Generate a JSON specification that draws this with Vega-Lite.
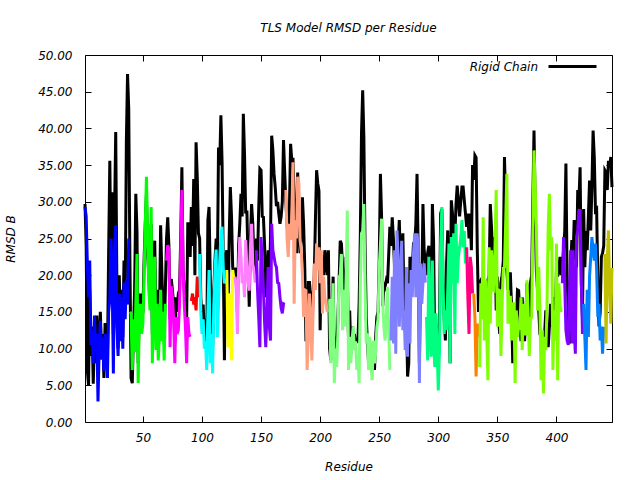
{
"$schema": "https://vega.github.io/schema/vega-lite/v6.json",
"autosize": {"type": "none"},
"padding": {"left": 85, "top": 55, "right": 28, "bottom": 58},
"width": 527,
"height": 367,
"title": {"text": "TLS Model RMSD per Residue", "font": "DejaVu Sans", "fontStyle": "italic", "fontWeight": "normal", "fontSize": 12, "offset": 6, "color": "black"},
"config": {
  "view": {"stroke": "black", "strokeWidth": 1},
  "axis": {"labelFont": "DejaVu Sans", "labelFontStyle": "italic", "labelFontSize": 12, "labelColor": "black", "titleFont": "DejaVu Sans", "titleFontStyle": "italic", "titleFontWeight": "normal", "titleFontSize": 12, "titleColor": "black", "domain": false, "grid": false, "tickColor": "black", "tickSize": -6, "tickWidth": 1}
},
"data": {"values": [
{"res":1,"tls":29.3,"rigid":29.7,"grp":"G01"},{"res":2,"tls":28.0,"rigid":24.0,"grp":"G01"},{"res":3,"tls":21.5,"rigid":7.0,"grp":"G01"},{"res":4,"tls":17.0,"rigid":5.0,"grp":"G01"},{"res":5,"tls":22.0,"rigid":18.0,"grp":"G01"},{"res":6,"tls":10.5,"rigid":9.0,"grp":"G01"},{"res":7,"tls":12.5,"rigid":13.0,"grp":"G01"},{"res":8,"tls":8.0,"rigid":5.2,"grp":"G01"},{"res":9,"tls":14.5,"rigid":12.0,"grp":"G01"},{"res":10,"tls":9.5,"rigid":8.0,"grp":"G01"},
{"res":11,"tls":12.0,"rigid":14.5,"grp":"G01"},{"res":12,"tls":2.8,"rigid":7.0,"grp":"G01"},{"res":13,"tls":10.0,"rigid":11.0,"grp":"G01"},{"res":14,"tls":13.8,"rigid":15.0,"grp":"G01"},{"res":15,"tls":8.5,"rigid":9.0,"grp":"G01"},{"res":16,"tls":11.5,"rigid":12.0,"grp":"G01"},{"res":17,"tls":7.0,"rigid":6.0,"grp":"G01"},{"res":18,"tls":12.0,"rigid":13.5,"grp":"G01"},{"res":19,"tls":9.5,"rigid":11.0,"grp":"G01"},{"res":20,"tls":6.0,"rigid":9.0,"grp":"G01"},
{"res":21,"tls":15.0,"rigid":23.0,"grp":"G01"},{"res":22,"tls":16.6,"rigid":35.6,"grp":"G01"},{"res":23,"tls":25.0,"rigid":20.0,"grp":"G01"},{"res":24,"tls":20.0,"rigid":31.3,"grp":"G01"},{"res":25,"tls":6.6,"rigid":12.0,"grp":"G01"},{"res":26,"tls":23.8,"rigid":28.0,"grp":"G01"},{"res":27,"tls":26.8,"rigid":39.5,"grp":"G01"},{"res":28,"tls":13.0,"rigid":18.0,"grp":"G01"},{"res":29,"tls":9.0,"rigid":10.0,"grp":"G01"},{"res":30,"tls":17.5,"rigid":20.0,"grp":"G01"},
{"res":31,"tls":11.0,"rigid":13.0,"grp":"G01"},{"res":32,"tls":17.0,"rigid":18.0,"grp":"G01"},{"res":33,"tls":10.0,"rigid":11.5,"grp":"G01"},{"res":34,"tls":19.0,"rigid":22.0,"grp":"G01"},{"res":35,"tls":14.0,"rigid":16.0,"grp":"G01"},{"res":36,"tls":19.3,"rigid":38.1,"grp":"G01"},{"res":37,"tls":16.0,"rigid":47.4,"grp":"G01"},{"res":38,"tls":25.0,"rigid":42.7,"grp":"G01"},
{"res":39,"tls":15.0,"rigid":22.0,"grp":"G02"},{"res":40,"tls":14.8,"rigid":6.0,"grp":"G02"},{"res":41,"tls":7.1,"rigid":5.3,"grp":"G02"},{"res":42,"tls":14.0,"rigid":12.0,"grp":"G02"},{"res":43,"tls":9.5,"rigid":18.0,"grp":"G02"},{"res":44,"tls":16.0,"rigid":31.1,"grp":"G02"},{"res":45,"tls":22.9,"rigid":26.0,"grp":"G02"},{"res":46,"tls":5.3,"rigid":8.0,"grp":"G02"},{"res":47,"tls":14.5,"rigid":16.0,"grp":"G02"},{"res":48,"tls":16.1,"rigid":17.5,"grp":"G02"},
{"res":49,"tls":12.0,"rigid":14.0,"grp":"G02"},{"res":50,"tls":13.5,"rigid":15.0,"grp":"G02"},{"res":51,"tls":20.0,"rigid":22.0,"grp":"G02"},{"res":52,"tls":26.6,"rigid":27.0,"grp":"G02"},{"res":53,"tls":33.4,"rigid":31.0,"grp":"G02"},{"res":54,"tls":25.2,"rigid":23.0,"grp":"G02"},{"res":55,"tls":18.0,"rigid":20.0,"grp":"G02"},{"res":56,"tls":15.2,"rigid":17.0,"grp":"G02"},{"res":57,"tls":29.3,"rigid":27.0,"grp":"G02"},{"res":58,"tls":8.0,"rigid":12.0,"grp":"G02"},
{"res":59,"tls":18.0,"rigid":22.0,"grp":"G02"},{"res":60,"tls":22.5,"rigid":24.7,"grp":"G02"},{"res":61,"tls":9.8,"rigid":14.0,"grp":"G02"},{"res":62,"tls":16.1,"rigid":18.0,"grp":"G02"},{"res":63,"tls":8.4,"rigid":11.0,"grp":"G02"},{"res":64,"tls":12.0,"rigid":14.0,"grp":"G02"},{"res":65,"tls":18.0,"rigid":26.8,"grp":"G02"},{"res":66,"tls":11.0,"rigid":20.7,"grp":"G02"},{"res":67,"tls":15.0,"rigid":15.0,"grp":"G02"},{"res":68,"tls":8.4,"rigid":12.0,"grp":"G02"},{"res":69,"tls":16.1,"rigid":18.0,"grp":"G02"},
{"res":70,"tls":22.0,"rigid":25.0,"grp":"G03"},{"res":71,"tls":24.1,"rigid":27.9,"grp":"G03"},{"res":72,"tls":23.5,"rigid":24.0,"grp":"G03"},{"res":73,"tls":10.2,"rigid":14.0,"grp":"G03"},{"res":74,"tls":18.5,"rigid":19.5,"grp":"G03"},{"res":75,"tls":17.0,"rigid":18.0,"grp":"G03"},{"res":76,"tls":14.0,"rigid":16.0,"grp":"G03"},{"res":77,"tls":8.0,"rigid":11.0,"grp":"G03"},{"res":78,"tls":14.3,"rigid":17.0,"grp":"G03"},{"res":79,"tls":12.0,"rigid":15.0,"grp":"G03"},
{"res":80,"tls":12.5,"rigid":17.5,"grp":"G03"},{"res":81,"tls":16.0,"rigid":18.0,"grp":"G03"},{"res":82,"tls":23.4,"rigid":25.0,"grp":"G03"},{"res":83,"tls":31.6,"rigid":34.7,"grp":"G03"},{"res":84,"tls":21.0,"rigid":20.5,"grp":"G03"},{"res":85,"tls":16.1,"rigid":18.0,"grp":"G03"},{"res":86,"tls":13.0,"rigid":15.0,"grp":"G03"},{"res":87,"tls":8.0,"rigid":14.0,"grp":"G03"},{"res":88,"tls":14.3,"rigid":27.0,"grp":"G03"},{"res":89,"tls":12.0,"rigid":27.0,"grp":"G03"},{"res":90,"tls":11.6,"rigid":22.5,"grp":"G03"},
{"res":91,"tls":16.5,"rigid":29.3,"grp":"G04"},{"res":92,"tls":17.5,"rigid":24.0,"grp":"G04"},{"res":93,"tls":16.0,"rigid":33.1,"grp":"G04"},{"res":94,"tls":17.0,"rigid":20.0,"grp":"G04"},{"res":95,"tls":15.2,"rigid":38.1,"grp":"G04"},{"res":96,"tls":19.8,"rigid":33.4,"grp":"G04"},{"res":97,"tls":17.0,"rigid":25.7,"grp":"G04"},
{"res":98,"tls":22.9,"rigid":25.0,"grp":"G05"},{"res":99,"tls":15.0,"rigid":17.0,"grp":"G05"},{"res":100,"tls":12.0,"rigid":14.0,"grp":"G05"},{"res":101,"tls":14.0,"rigid":16.0,"grp":"G05"},{"res":102,"tls":10.0,"rigid":12.0,"grp":"G05"},{"res":103,"tls":11.0,"rigid":14.0,"grp":"G05"},{"res":104,"tls":7.1,"rigid":10.0,"grp":"G05"},{"res":105,"tls":15.0,"rigid":27.5,"grp":"G05"},{"res":106,"tls":20.7,"rigid":29.3,"grp":"G05"},{"res":107,"tls":8.0,"rigid":20.0,"grp":"G05"},
{"res":108,"tls":12.0,"rigid":14.0,"grp":"G05"},{"res":109,"tls":6.6,"rigid":10.0,"grp":"G05"},{"res":110,"tls":16.0,"rigid":18.0,"grp":"G05"},{"res":111,"tls":20.7,"rigid":22.0,"grp":"G05"},{"res":112,"tls":23.5,"rigid":25.0,"grp":"G05"},{"res":113,"tls":11.6,"rigid":20.0,"grp":"G05"},{"res":114,"tls":16.0,"rigid":37.4,"grp":"G05"},{"res":115,"tls":22.0,"rigid":35.0,"grp":"G05"},{"res":116,"tls":25.2,"rigid":41.8,"grp":"G05"},{"res":117,"tls":26.6,"rigid":35.4,"grp":"G05"},{"res":118,"tls":21.0,"rigid":22.0,"grp":"G05"},{"res":119,"tls":18.9,"rigid":8.4,"grp":"G05"},{"res":120,"tls":19.5,"rigid":22.5,"grp":"G05"},
{"res":121,"tls":20.7,"rigid":23.4,"grp":"G06"},{"res":122,"tls":10.2,"rigid":14.0,"grp":"G06"},{"res":123,"tls":17.5,"rigid":25.0,"grp":"G06"},{"res":124,"tls":16.6,"rigid":32.0,"grp":"G06"},{"res":125,"tls":8.4,"rigid":28.0,"grp":"G06"},{"res":126,"tls":20.7,"rigid":21.1,"grp":"G06"},{"res":127,"tls":19.5,"rigid":20.0,"grp":"G06"},
{"res":128,"tls":19.8,"rigid":21.0,"grp":"G07"},{"res":129,"tls":18.0,"rigid":20.0,"grp":"G07"},{"res":130,"tls":12.0,"rigid":15.0,"grp":"G07"},{"res":131,"tls":21.0,"rigid":24.0,"grp":"G07"},{"res":132,"tls":25.2,"rigid":27.0,"grp":"G07"},{"res":133,"tls":22.5,"rigid":31.1,"grp":"G07"},{"res":134,"tls":18.9,"rigid":28.0,"grp":"G07"},{"res":135,"tls":20.0,"rigid":42.0,"grp":"G07"},{"res":136,"tls":17.0,"rigid":36.5,"grp":"G07"},{"res":137,"tls":24.8,"rigid":28.4,"grp":"G07"},
{"res":138,"tls":21.0,"rigid":28.8,"grp":"G07"},{"res":139,"tls":19.0,"rigid":22.0,"grp":"G07"},{"res":140,"tls":17.9,"rigid":15.7,"grp":"G07"},{"res":141,"tls":24.0,"rigid":25.0,"grp":"G07"},{"res":142,"tls":27.0,"rigid":29.7,"grp":"G07"},{"res":143,"tls":21.5,"rigid":27.0,"grp":"G07"},{"res":144,"tls":20.7,"rigid":22.0,"grp":"G07"},{"res":145,"tls":19.0,"rigid":20.0,"grp":"G07"},
{"res":146,"tls":23.4,"rigid":25.0,"grp":"G08"},{"res":147,"tls":18.0,"rigid":22.0,"grp":"G08"},{"res":148,"tls":14.3,"rigid":29.0,"grp":"G08"},{"res":149,"tls":10.2,"rigid":34.5,"grp":"G08"},{"res":150,"tls":25.2,"rigid":34.3,"grp":"G08"},{"res":151,"tls":21.5,"rigid":28.0,"grp":"G08"},{"res":152,"tls":18.0,"rigid":27.9,"grp":"G08"},{"res":153,"tls":13.5,"rigid":24.0,"grp":"G08"},{"res":154,"tls":10.2,"rigid":17.0,"grp":"G08"},{"res":155,"tls":15.0,"rigid":20.0,"grp":"G08"},
{"res":156,"tls":21.1,"rigid":23.4,"grp":"G08"},{"res":157,"tls":13.0,"rigid":18.0,"grp":"G08"},{"res":158,"tls":11.1,"rigid":25.0,"grp":"G08"},{"res":159,"tls":27.0,"rigid":39.0,"grp":"G08"},{"res":160,"tls":23.4,"rigid":37.0,"grp":"G08"},{"res":161,"tls":22.5,"rigid":33.8,"grp":"G08"},{"res":162,"tls":21.5,"rigid":32.0,"grp":"G08"},{"res":163,"tls":21.1,"rigid":29.4,"grp":"G08"},{"res":164,"tls":19.0,"rigid":30.0,"grp":"G08"},{"res":165,"tls":18.9,"rigid":28.4,"grp":"G08"},
{"res":166,"tls":17.0,"rigid":27.0,"grp":"G08"},{"res":167,"tls":15.5,"rigid":28.0,"grp":"G08"},{"res":168,"tls":14.8,"rigid":30.0,"grp":"G08"},{"res":169,"tls":16.1,"rigid":38.4,"grp":"G08"},{"res":170,"tls":16.0,"rigid":34.0,"grp":"G08"},
{"res":171,"tls":31.6,"rigid":30.0,"grp":"G09"},{"res":172,"tls":25.0,"rigid":27.0,"grp":"G09"},{"res":173,"tls":22.5,"rigid":25.0,"grp":"G09"},{"res":174,"tls":27.0,"rigid":29.0,"grp":"G09"},{"res":175,"tls":24.8,"rigid":37.9,"grp":"G09"},{"res":176,"tls":28.0,"rigid":35.6,"grp":"G09"},{"res":177,"tls":35.4,"rigid":36.0,"grp":"G09"},{"res":178,"tls":16.1,"rigid":31.0,"grp":"G09"},{"res":179,"tls":27.5,"rigid":25.0,"grp":"G09"},{"res":180,"tls":25.0,"rigid":23.0,"grp":"G09"},
{"res":181,"tls":33.4,"rigid":34.0,"grp":"G09"},{"res":182,"tls":32.5,"rigid":26.0,"grp":"G09"},{"res":183,"tls":24.8,"rigid":23.0,"grp":"G09"},{"res":184,"tls":23.4,"rigid":25.0,"grp":"G09"},{"res":185,"tls":20.0,"rigid":30.6,"grp":"G09"},{"res":186,"tls":14.3,"rigid":27.0,"grp":"G09"},{"res":187,"tls":18.0,"rigid":21.0,"grp":"G09"},{"res":188,"tls":17.9,"rigid":11.0,"grp":"G09"},{"res":189,"tls":7.1,"rigid":13.0,"grp":"G09"},{"res":190,"tls":11.6,"rigid":19.0,"grp":"G09"},
{"res":191,"tls":17.5,"rigid":19.0,"grp":"G09"},{"res":192,"tls":14.0,"rigid":17.0,"grp":"G09"},{"res":193,"tls":8.4,"rigid":12.0,"grp":"G09"},{"res":194,"tls":14.8,"rigid":17.0,"grp":"G09"},{"res":195,"tls":21.6,"rigid":19.8,"grp":"G09"},{"res":196,"tls":18.0,"rigid":27.5,"grp":"G09"},{"res":197,"tls":24.3,"rigid":34.3,"grp":"G09"},{"res":198,"tls":20.7,"rigid":32.5,"grp":"G09"},{"res":199,"tls":23.8,"rigid":31.5,"grp":"G09"},{"res":200,"tls":18.9,"rigid":12.5,"grp":"G09"},
{"res":201,"tls":23.4,"rigid":21.6,"grp":"G09"},{"res":202,"tls":14.8,"rigid":22.0,"grp":"G09"},{"res":203,"tls":19.8,"rigid":20.0,"grp":"G09"},{"res":204,"tls":17.0,"rigid":23.4,"grp":"G09"},{"res":205,"tls":16.1,"rigid":22.0,"grp":"G09"},{"res":206,"tls":15.0,"rigid":20.0,"grp":"G09"},
{"res":207,"tls":16.6,"rigid":23.4,"grp":"G10"},{"res":208,"tls":16.6,"rigid":10.0,"grp":"G10"},{"res":209,"tls":8.0,"rigid":8.4,"grp":"G10"},{"res":210,"tls":14.3,"rigid":14.8,"grp":"G10"},{"res":211,"tls":18.9,"rigid":19.8,"grp":"G10"},{"res":212,"tls":5.3,"rigid":8.4,"grp":"G10"},{"res":213,"tls":10.0,"rigid":11.6,"grp":"G10"},{"res":214,"tls":7.5,"rigid":10.0,"grp":"G10"},{"res":215,"tls":12.0,"rigid":14.0,"grp":"G10"},{"res":216,"tls":19.8,"rigid":18.9,"grp":"G10"},
{"res":217,"tls":20.0,"rigid":24.7,"grp":"G10"},{"res":218,"tls":22.9,"rigid":24.3,"grp":"G10"},{"res":219,"tls":12.5,"rigid":21.1,"grp":"G10"},{"res":220,"tls":18.0,"rigid":16.0,"grp":"G10"},{"res":221,"tls":13.0,"rigid":16.6,"grp":"G10"},{"res":222,"tls":20.0,"rigid":22.5,"grp":"G10"},{"res":223,"tls":28.8,"rigid":20.0,"grp":"G10"},{"res":224,"tls":7.1,"rigid":11.6,"grp":"G10"},{"res":225,"tls":11.6,"rigid":15.2,"grp":"G10"},{"res":226,"tls":8.0,"rigid":9.3,"grp":"G10"},
{"res":227,"tls":11.1,"rigid":13.0,"grp":"G10"},{"res":228,"tls":13.0,"rigid":10.7,"grp":"G10"},{"res":229,"tls":9.8,"rigid":12.0,"grp":"G10"},{"res":230,"tls":11.0,"rigid":10.7,"grp":"G10"},{"res":231,"tls":7.1,"rigid":11.0,"grp":"G10"},{"res":232,"tls":9.0,"rigid":11.0,"grp":"G10"},{"res":233,"tls":5.3,"rigid":16.1,"grp":"G10"},{"res":234,"tls":18.4,"rigid":25.2,"grp":"G10"},{"res":235,"tls":25.7,"rigid":39.3,"grp":"G10"},{"res":236,"tls":26.0,"rigid":45.2,"grp":"G10"},
{"res":237,"tls":29.7,"rigid":38.8,"grp":"G10"},{"res":238,"tls":18.9,"rigid":24.0,"grp":"G10"},{"res":239,"tls":10.7,"rigid":14.3,"grp":"G10"},{"res":240,"tls":12.1,"rigid":11.0,"grp":"G10"},{"res":241,"tls":7.1,"rigid":8.0,"grp":"G10"},{"res":242,"tls":11.6,"rigid":10.0,"grp":"G10"},{"res":243,"tls":8.0,"rigid":10.2,"grp":"G10"},{"res":244,"tls":5.7,"rigid":7.0,"grp":"G10"},{"res":245,"tls":11.1,"rigid":9.0,"grp":"G10"},{"res":246,"tls":8.0,"rigid":7.1,"grp":"G10"},
{"res":247,"tls":9.4,"rigid":11.6,"grp":"G10"},{"res":248,"tls":12.9,"rigid":14.3,"grp":"G10"},{"res":249,"tls":14.0,"rigid":15.0,"grp":"G10"},{"res":250,"tls":21.1,"rigid":22.0,"grp":"G10"},{"res":251,"tls":24.0,"rigid":33.8,"grp":"G10"},{"res":252,"tls":27.7,"rigid":28.0,"grp":"G10"},{"res":253,"tls":16.1,"rigid":15.8,"grp":"G10"},{"res":254,"tls":12.9,"rigid":19.0,"grp":"G10"},{"res":255,"tls":11.1,"rigid":18.5,"grp":"G10"},{"res":256,"tls":14.3,"rigid":19.3,"grp":"G10"},
{"res":257,"tls":18.4,"rigid":18.9,"grp":"G10"},{"res":258,"tls":13.0,"rigid":22.7,"grp":"G10"},{"res":259,"tls":7.1,"rigid":26.6,"grp":"G10"},
{"res":260,"tls":11.1,"rigid":24.0,"grp":"G11"},{"res":261,"tls":19.8,"rigid":27.9,"grp":"G11"},{"res":262,"tls":10.7,"rigid":25.0,"grp":"G11"},{"res":263,"tls":23.4,"rigid":21.0,"grp":"G11"},{"res":264,"tls":9.3,"rigid":22.0,"grp":"G11"},{"res":265,"tls":26.1,"rigid":22.0,"grp":"G11"},{"res":266,"tls":22.5,"rigid":23.9,"grp":"G11"},{"res":267,"tls":13.0,"rigid":27.5,"grp":"G11"},{"res":268,"tls":18.0,"rigid":21.1,"grp":"G11"},{"res":269,"tls":24.7,"rigid":23.0,"grp":"G11"},
{"res":270,"tls":12.5,"rigid":25.7,"grp":"G11"},{"res":271,"tls":15.2,"rigid":16.0,"grp":"G11"},{"res":272,"tls":9.8,"rigid":14.0,"grp":"G11"},{"res":273,"tls":21.1,"rigid":15.0,"grp":"G11"},{"res":274,"tls":8.9,"rigid":6.2,"grp":"G11"},{"res":275,"tls":18.9,"rigid":8.0,"grp":"G11"},{"res":276,"tls":10.7,"rigid":22.5,"grp":"G11"},{"res":277,"tls":20.7,"rigid":18.9,"grp":"G11"},{"res":278,"tls":17.0,"rigid":21.0,"grp":"G11"},{"res":279,"tls":22.9,"rigid":24.3,"grp":"G11"},
{"res":280,"tls":25.7,"rigid":24.3,"grp":"G11"},{"res":281,"tls":17.0,"rigid":27.0,"grp":"G11"},{"res":282,"tls":25.7,"rigid":33.8,"grp":"G11"},{"res":283,"tls":24.0,"rigid":23.0,"grp":"G11"},{"res":284,"tls":5.3,"rigid":8.0,"grp":"G11"},{"res":285,"tls":21.6,"rigid":19.8,"grp":"G11"},{"res":286,"tls":16.1,"rigid":18.0,"grp":"G11"},{"res":287,"tls":18.9,"rigid":29.7,"grp":"G11"},{"res":288,"tls":21.6,"rigid":23.4,"grp":"G11"},{"res":289,"tls":19.0,"rigid":22.0,"grp":"G11"},
{"res":290,"tls":14.3,"rigid":20.0,"grp":"G12"},{"res":291,"tls":8.4,"rigid":23.0,"grp":"G12"},{"res":292,"tls":22.5,"rigid":24.0,"grp":"G12"},{"res":293,"tls":12.0,"rigid":14.0,"grp":"G12"},{"res":294,"tls":8.9,"rigid":15.0,"grp":"G12"},{"res":295,"tls":22.0,"rigid":29.7,"grp":"G12"},{"res":296,"tls":11.6,"rigid":24.7,"grp":"G12"},{"res":297,"tls":7.5,"rigid":10.0,"grp":"G12"},{"res":298,"tls":14.8,"rigid":9.0,"grp":"G12"},{"res":299,"tls":9.8,"rigid":8.0,"grp":"G12"},
{"res":300,"tls":4.3,"rigid":12.0,"grp":"G12"},{"res":301,"tls":9.8,"rigid":14.0,"grp":"G12"},{"res":302,"tls":24.3,"rigid":28.4,"grp":"G12"},{"res":303,"tls":29.3,"rigid":29.0,"grp":"G12"},{"res":304,"tls":18.9,"rigid":19.0,"grp":"G12"},{"res":305,"tls":12.0,"rigid":14.0,"grp":"G12"},{"res":306,"tls":15.2,"rigid":11.1,"grp":"G12"},{"res":307,"tls":12.5,"rigid":21.6,"grp":"G12"},{"res":308,"tls":18.0,"rigid":26.1,"grp":"G12"},{"res":309,"tls":24.3,"rigid":20.0,"grp":"G12"},
{"res":310,"tls":8.0,"rigid":8.0,"grp":"G12"},{"res":311,"tls":25.2,"rigid":30.2,"grp":"G12"},{"res":312,"tls":18.9,"rigid":28.4,"grp":"G12"},{"res":313,"tls":25.7,"rigid":25.2,"grp":"G12"},{"res":314,"tls":12.0,"rigid":25.2,"grp":"G12"},{"res":315,"tls":27.0,"rigid":29.7,"grp":"G12"},{"res":316,"tls":18.9,"rigid":32.2,"grp":"G12"},{"res":317,"tls":22.5,"rigid":30.0,"grp":"G12"},{"res":318,"tls":23.8,"rigid":28.0,"grp":"G12"},{"res":319,"tls":25.0,"rigid":30.0,"grp":"G12"},
{"res":320,"tls":27.5,"rigid":32.0,"grp":"G12"},{"res":321,"tls":23.8,"rigid":32.0,"grp":"G12"},{"res":322,"tls":26.0,"rigid":30.2,"grp":"G12"},{"res":323,"tls":21.6,"rigid":28.4,"grp":"G12"},
{"res":324,"tls":23.8,"rigid":26.6,"grp":"G13"},{"res":325,"tls":17.0,"rigid":28.4,"grp":"G13"},{"res":326,"tls":12.0,"rigid":25.0,"grp":"G13"},{"res":327,"tls":22.5,"rigid":28.4,"grp":"G13"},{"res":328,"tls":21.1,"rigid":23.4,"grp":"G13"},{"res":329,"tls":17.5,"rigid":35.0,"grp":"G13"},
{"res":330,"tls":17.5,"rigid":33.0,"grp":"G14"},{"res":331,"tls":14.3,"rigid":36.3,"grp":"G14"},{"res":332,"tls":6.2,"rigid":36.0,"grp":"G14"},{"res":333,"tls":13.4,"rigid":23.4,"grp":"G14"},{"res":334,"tls":11.6,"rigid":15.0,"grp":"G14"},
{"res":335,"tls":7.5,"rigid":19.0,"grp":"G15"},{"res":336,"tls":18.9,"rigid":19.3,"grp":"G15"},{"res":337,"tls":14.0,"rigid":18.0,"grp":"G15"},{"res":338,"tls":27.9,"rigid":17.5,"grp":"G15"},{"res":339,"tls":11.1,"rigid":18.0,"grp":"G15"},{"res":340,"tls":19.3,"rigid":19.0,"grp":"G15"},{"res":341,"tls":12.0,"rigid":18.0,"grp":"G15"},{"res":342,"tls":5.7,"rigid":19.3,"grp":"G15"},{"res":343,"tls":23.8,"rigid":20.0,"grp":"G15"},{"res":344,"tls":13.4,"rigid":29.7,"grp":"G15"},
{"res":345,"tls":23.4,"rigid":26.6,"grp":"G15"},{"res":346,"tls":18.0,"rigid":23.0,"grp":"G15"},{"res":347,"tls":17.9,"rigid":22.9,"grp":"G15"},{"res":348,"tls":24.0,"rigid":25.2,"grp":"G15"},{"res":349,"tls":31.6,"rigid":15.2,"grp":"G15"},{"res":350,"tls":13.0,"rigid":19.8,"grp":"G15"},{"res":351,"tls":18.0,"rigid":14.0,"grp":"G15"},{"res":352,"tls":17.9,"rigid":12.0,"grp":"G15"},{"res":353,"tls":9.0,"rigid":19.0,"grp":"G15"},{"res":354,"tls":16.1,"rigid":20.0,"grp":"G15"},
{"res":355,"tls":21.0,"rigid":22.0,"grp":"G15"},{"res":356,"tls":21.1,"rigid":36.1,"grp":"G15"},{"res":357,"tls":27.0,"rigid":30.0,"grp":"G15"},{"res":358,"tls":33.8,"rigid":20.8,"grp":"G15"},{"res":359,"tls":13.4,"rigid":18.0,"grp":"G15"},{"res":360,"tls":17.0,"rigid":20.2,"grp":"G15"},{"res":361,"tls":17.0,"rigid":20.2,"grp":"G15"},{"res":362,"tls":11.1,"rigid":15.7,"grp":"G15"},{"res":363,"tls":16.1,"rigid":8.0,"grp":"G15"},{"res":364,"tls":16.1,"rigid":11.0,"grp":"G15"},
{"res":365,"tls":5.3,"rigid":10.7,"grp":"G15"},{"res":366,"tls":15.2,"rigid":13.0,"grp":"G15"},{"res":367,"tls":11.6,"rigid":18.0,"grp":"G15"},{"res":368,"tls":13.0,"rigid":17.9,"grp":"G15"},{"res":369,"tls":12.9,"rigid":14.3,"grp":"G15"},{"res":370,"tls":17.0,"rigid":11.0,"grp":"G15"},{"res":371,"tls":9.8,"rigid":17.0,"grp":"G15"},{"res":372,"tls":16.1,"rigid":13.4,"grp":"G15"},{"res":373,"tls":12.0,"rigid":11.0,"grp":"G15"},{"res":374,"tls":12.0,"rigid":14.0,"grp":"G15"},
{"res":375,"tls":19.3,"rigid":18.9,"grp":"G15"},{"res":376,"tls":15.2,"rigid":14.0,"grp":"G15"},{"res":377,"tls":9.0,"rigid":12.0,"grp":"G15"},{"res":378,"tls":14.0,"rigid":19.0,"grp":"G15"},{"res":379,"tls":14.3,"rigid":20.0,"grp":"G15"},{"res":380,"tls":26.0,"rigid":30.0,"grp":"G15"},{"res":381,"tls":37.0,"rigid":39.7,"grp":"G15"},{"res":382,"tls":32.0,"rigid":29.0,"grp":"G15"},{"res":383,"tls":26.6,"rigid":20.5,"grp":"G15"},{"res":384,"tls":15.2,"rigid":18.0,"grp":"G15"},
{"res":385,"tls":21.1,"rigid":15.2,"grp":"G15"},{"res":386,"tls":15.2,"rigid":12.0,"grp":"G15"},{"res":387,"tls":5.7,"rigid":11.6,"grp":"G15"},{"res":388,"tls":12.5,"rigid":10.0,"grp":"G15"},{"res":389,"tls":3.9,"rigid":9.8,"grp":"G15"},{"res":390,"tls":11.6,"rigid":12.0,"grp":"G15"},{"res":391,"tls":9.8,"rigid":15.2,"grp":"G15"},{"res":392,"tls":15.7,"rigid":12.0,"grp":"G15"},{"res":393,"tls":26.6,"rigid":10.2,"grp":"G15"},{"res":394,"tls":31.1,"rigid":13.0,"grp":"G15"},
{"res":395,"tls":23.4,"rigid":16.1,"grp":"G15"},{"res":396,"tls":25.2,"rigid":13.0,"grp":"G15"},{"res":397,"tls":7.1,"rigid":17.0,"grp":"G15"},{"res":398,"tls":15.2,"rigid":16.6,"grp":"G15"},{"res":399,"tls":11.1,"rigid":14.0,"grp":"G15"},{"res":400,"tls":24.3,"rigid":20.7,"grp":"G15"},{"res":401,"tls":5.7,"rigid":19.8,"grp":"G15"},{"res":402,"tls":18.9,"rigid":21.0,"grp":"G15"},{"res":403,"tls":16.0,"rigid":22.5,"grp":"G15"},{"res":404,"tls":15.0,"rigid":20.0,"grp":"G15"},
{"res":405,"tls":18.9,"rigid":21.0,"grp":"G16"},{"res":406,"tls":25.2,"rigid":23.4,"grp":"G16"},{"res":407,"tls":18.9,"rigid":26.0,"grp":"G16"},{"res":408,"tls":12.5,"rigid":35.2,"grp":"G16"},{"res":409,"tls":11.1,"rigid":19.8,"grp":"G16"},{"res":410,"tls":10.5,"rigid":15.0,"grp":"G16"},{"res":411,"tls":17.5,"rigid":10.7,"grp":"G16"},{"res":412,"tls":23.4,"rigid":21.0,"grp":"G16"},{"res":413,"tls":10.7,"rigid":24.8,"grp":"G16"},
{"res":414,"tls":23.4,"rigid":22.0,"grp":"G16"},{"res":415,"tls":12.5,"rigid":27.5,"grp":"G16"},{"res":416,"tls":9.3,"rigid":25.0,"grp":"G16"},{"res":417,"tls":25.2,"rigid":21.1,"grp":"G16"},{"res":418,"tls":26.1,"rigid":31.6,"grp":"G16"},{"res":419,"tls":28.8,"rigid":30.0,"grp":"G16"},{"res":420,"tls":28.8,"rigid":34.7,"grp":"G16"},{"res":421,"tls":19.8,"rigid":18.9,"grp":"G16"},{"res":422,"tls":12.0,"rigid":14.3,"grp":"G16"},
{"res":423,"tls":16.1,"rigid":29.0,"grp":"G17"},{"res":424,"tls":11.6,"rigid":21.1,"grp":"G17"},{"res":425,"tls":7.1,"rigid":26.0,"grp":"G17"},{"res":426,"tls":18.0,"rigid":23.4,"grp":"G17"},{"res":427,"tls":11.6,"rigid":28.0,"grp":"G17"},{"res":428,"tls":19.8,"rigid":32.9,"grp":"G17"},{"res":429,"tls":22.5,"rigid":26.1,"grp":"G17"},{"res":430,"tls":25.2,"rigid":32.0,"grp":"G17"},{"res":431,"tls":23.4,"rigid":39.7,"grp":"G17"},
{"res":432,"tls":22.0,"rigid":36.1,"grp":"G17"},{"res":433,"tls":24.3,"rigid":28.8,"grp":"G17"},{"res":434,"tls":20.7,"rigid":29.0,"grp":"G17"},{"res":435,"tls":14.3,"rigid":19.3,"grp":"G17"},{"res":436,"tls":16.1,"rigid":13.0,"grp":"G17"},{"res":437,"tls":11.1,"rigid":15.0,"grp":"G17"},{"res":438,"tls":13.0,"rigid":22.5,"grp":"G17"},{"res":439,"tls":9.3,"rigid":23.0,"grp":"G17"},{"res":440,"tls":13.0,"rigid":24.0,"grp":"G17"},
{"res":441,"tls":22.9,"rigid":34.3,"grp":"G18"},{"res":442,"tls":10.7,"rigid":34.0,"grp":"G18"},{"res":443,"tls":22.0,"rigid":31.6,"grp":"G18"},{"res":444,"tls":26.1,"rigid":35.6,"grp":"G18"},{"res":445,"tls":17.9,"rigid":34.7,"grp":"G18"},{"res":446,"tls":13.4,"rigid":36.1,"grp":"G18"},{"res":447,"tls":21.0,"rigid":32.0,"grp":"G18"}
]},
"layer": [
  {
    "mark": {"type": "line", "strokeWidth": 3},
    "encoding": {
      "x": {"field": "res", "type": "quantitative", "scale": {"domain": [1, 447], "nice": false, "zero": false},
            "axis": {"orient": "bottom", "values": [50,100,150,200,250,300,350,400], "labelPadding": 16, "title": "Residue", "titlePadding": 18}},
      "y": {"field": "rigid", "type": "quantitative", "scale": {"domain": [0, 50], "nice": false},
            "axis": {"orient": "left", "values": [0,5,10,15,20,25,30,35,40,45,50], "format": ".2f", "labelPadding": 19, "title": "RMSD B", "titlePadding": 20}},
      "color": {"datum": "Rigid Chain", "scale": {"domain": ["Rigid Chain"], "range": ["black"]},
                "legend": {"title": null, "orient": "none", "legendX": 462, "legendY": -14, "symbolType": "stroke", "symbolSize": 2304, "symbolStrokeWidth": 3, "labelAlign": "right", "labelOffset": -60, "labelFont": "DejaVu Sans", "labelFontStyle": "italic", "labelFontSize": 12, "labelColor": "black"}}
    }
  },
  {
    "mark": {"type": "line", "strokeWidth": 3},
    "encoding": {
      "x": {"field": "res", "type": "quantitative", "axis": {"orient": "top", "values": [50,100,150,200,250,300,350,400], "labels": false, "title": null}},
      "y": {"field": "tls", "type": "quantitative", "axis": {"orient": "right", "values": [0,5,10,15,20,25,30,35,40,45,50], "labels": false, "title": null}},
      "color": {"field": "grp", "type": "nominal", "legend": null,
                "scale": {"domain": ["G01","G02","G03","G04","G05","G06","G07","G08","G09","G10","G11","G12","G13","G14","G15","G16","G17","G18"],
                          "range": ["#0000ff","#00ff00","#ff00ff","#ff0000","#00ffff","#ffff00","#ff80ff","#8000ff","#ffa080","#80ff80","#8080ff","#00ff80","#ff0080","#ff8000","#80ff00","#8000ff","#0080ff","#c0c000"]}}
    }
  }
],
"resolve": {"scale": {"color": "independent"}, "axis": {"x": "independent", "y": "independent"}}
}
